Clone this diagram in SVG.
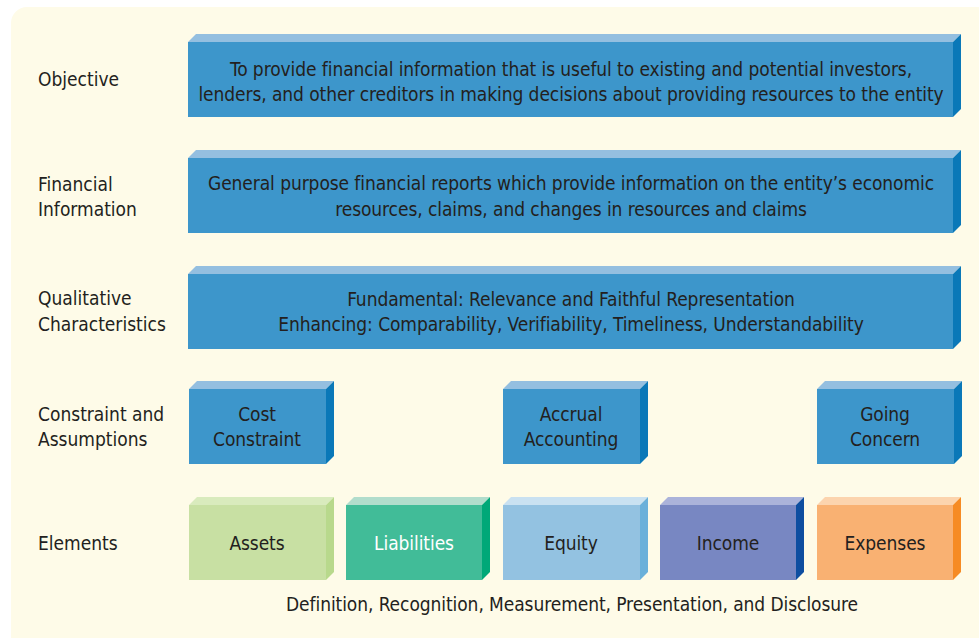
<svg xmlns="http://www.w3.org/2000/svg" width="979" height="638" viewBox="0 0 979 638">
  <style>
    text { font-family: "DejaVu Sans Condensed", "Liberation Sans Narrow", "Roboto Condensed", "Liberation Sans", sans-serif; font-stretch: condensed; fill: #231f20; font-size: 19px; }
    .mid { text-anchor: middle; letter-spacing: -0.08px; }
    .light { fill: #ffffff; }
    .blue .front { fill: #3d96cb; } .blue .top { fill: #94bfe0; } .blue .side { fill: #0a78b8; }
    .assets .front { fill: #c8e0a3; } .assets .top { fill: #d9ebbd; } .assets .side { fill: #b8d98c; }
    .liab .front { fill: #41bc98; } .liab .top { fill: #b1ddcc; } .liab .side { fill: #00a878; }
    .equity .front { fill: #93c2e1; } .equity .top { fill: #c9e1f1; } .equity .side { fill: #6ab0da; }
    .income .front { fill: #7887c2; } .income .top { fill: #abb3da; } .income .side { fill: #0e4ea0; }
    .exp .front { fill: #f9b172; } .exp .top { fill: #fcd4ae; } .exp .side { fill: #f68b24; }
  </style>

  <!-- backdrop -->
  <rect x="0" y="0" width="979" height="638" fill="#ffffff"/>
  <rect x="11" y="7" width="990" height="650" rx="16" fill="#fefbe8"/>

  <!-- row labels -->
  <g id="labels">
    <text x="38" y="86">Objective</text>
    <text x="38" y="191">Financial</text>
    <text x="38" y="216">Information</text>
    <text x="38" y="305">Qualitative</text>
    <text x="38" y="331">Characteristics</text>
    <text x="38" y="421">Constraint and</text>
    <text x="38" y="446">Assumptions</text>
    <text x="38" y="550">Elements</text>
  </g>

  <!-- Objective -->
  <g id="objective" class="blue">
    <polygon class="top" points="188,42 196,34 961,34 953,42"/>
    <polygon class="side" points="953,42 961,34 961,109 953,117"/>
    <rect class="front" x="188" y="42" width="765" height="75"/>
    <text class="mid" x="571" y="76">To provide financial information that is useful to existing and potential investors,</text>
    <text class="mid" x="571" y="101">lenders, and other creditors in making decisions about providing resources to the entity</text>
  </g>

  <!-- Financial Information -->
  <g id="financial-information" class="blue">
    <polygon class="top" points="188,158 196,150 961,150 953,158"/>
    <polygon class="side" points="953,158 961,150 961,225 953,233"/>
    <rect class="front" x="188" y="158" width="765" height="75"/>
    <text class="mid" x="571" y="190">General purpose financial reports which provide information on the entity’s economic</text>
    <text class="mid" x="571" y="216">resources, claims, and changes in resources and claims</text>
  </g>

  <!-- Qualitative Characteristics -->
  <g id="qualitative-characteristics" class="blue">
    <polygon class="top" points="188,274 196,266 961,266 953,274"/>
    <polygon class="side" points="953,274 961,266 961,341 953,349"/>
    <rect class="front" x="188" y="274" width="765" height="75"/>
    <text class="mid" x="571" y="306">Fundamental: Relevance and Faithful Representation</text>
    <text class="mid" x="571" y="331">Enhancing: Comparability, Verifiability, Timeliness, Understandability</text>
  </g>

  <!-- Constraint and Assumptions -->
  <g id="cost-constraint" class="blue">
    <polygon class="top" points="189,389 197,381 334,381 326,389"/>
    <polygon class="side" points="326,389 334,381 334,456 326,464"/>
    <rect class="front" x="189" y="389" width="137" height="75"/>
    <text class="mid" x="257" y="421">Cost</text>
    <text class="mid" x="257" y="446">Constraint</text>
  </g>
  <g id="accrual-accounting" class="blue">
    <polygon class="top" points="503,389 511,381 648,381 640,389"/>
    <polygon class="side" points="640,389 648,381 648,456 640,464"/>
    <rect class="front" x="503" y="389" width="137" height="75"/>
    <text class="mid" x="571" y="421">Accrual</text>
    <text class="mid" x="571" y="446">Accounting</text>
  </g>
  <g id="going-concern" class="blue">
    <polygon class="top" points="817,389 825,381 962,381 954,389"/>
    <polygon class="side" points="954,389 962,381 962,456 954,464"/>
    <rect class="front" x="817" y="389" width="137" height="75"/>
    <text class="mid" x="885" y="421">Going</text>
    <text class="mid" x="885" y="446">Concern</text>
  </g>

  <!-- Elements -->
  <g id="assets" class="assets">
    <polygon class="top" points="189,505 197,497 334,497 326,505"/>
    <polygon class="side" points="326,505 334,497 334,572 326,580"/>
    <rect class="front" x="189" y="505" width="137" height="75"/>
    <text class="mid" x="257" y="550">Assets</text>
  </g>
  <g id="liabilities" class="liab">
    <polygon class="top" points="346,505 354,497 490,497 482,505"/>
    <polygon class="side" points="482,505 490,497 490,572 482,580"/>
    <rect class="front" x="346" y="505" width="136" height="75"/>
    <text class="mid light" x="414" y="550">Liabilities</text>
  </g>
  <g id="equity" class="equity">
    <polygon class="top" points="503,505 511,497 648,497 640,505"/>
    <polygon class="side" points="640,505 648,497 648,572 640,580"/>
    <rect class="front" x="503" y="505" width="137" height="75"/>
    <text class="mid" x="571" y="550">Equity</text>
  </g>
  <g id="income" class="income">
    <polygon class="top" points="660,505 668,497 804,497 796,505"/>
    <polygon class="side" points="796,505 804,497 804,572 796,580"/>
    <rect class="front" x="660" y="505" width="136" height="75"/>
    <text class="mid" x="728" y="550">Income</text>
  </g>
  <g id="expenses" class="exp">
    <polygon class="top" points="817,505 825,497 961,497 953,505"/>
    <polygon class="side" points="953,505 961,497 961,572 953,580"/>
    <rect class="front" x="817" y="505" width="136" height="75"/>
    <text class="mid" x="885" y="550">Expenses</text>
  </g>

  <text class="mid" x="572" y="611">Definition, Recognition, Measurement, Presentation, and Disclosure</text>
</svg>
